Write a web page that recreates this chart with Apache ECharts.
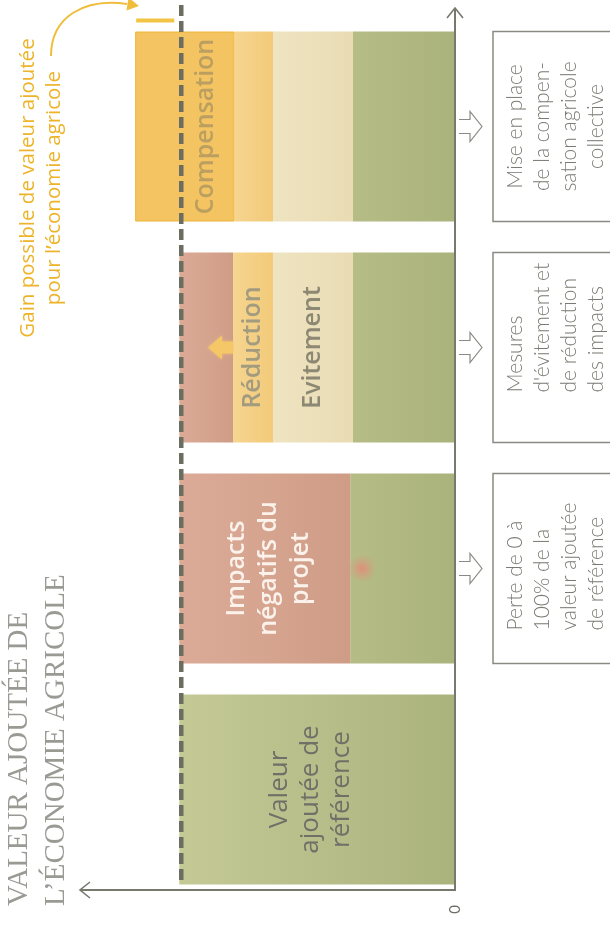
<!DOCTYPE html>
<html>
<head>
<meta charset="utf-8">
<script src="https://cdn.jsdelivr.net/npm/echarts@6/dist/echarts.min.js"></script>
<style>
  html, body { margin: 0; padding: 0; background: #ffffff; }
  #chart { width: 610px; height: 930px; }
</style>
</head>
<body>
<div id="chart"></div>
<script>
// Agricultural value added at each stage of a project (reference = 100)
const stages = ['Référence', 'Impacts', 'Évitement et réduction', 'Compensation'];
const preservedValue  = [100, 38, 37, 37];
const avoidedLoss     = [0, 0, 29, 29];
const reducedLoss     = [0, 0, 14.5, 14];
const remainingImpact = [0, 62, 19.5, 0];
const compensation    = [0, 0, 0, 36];
const referenceLevel  = 100;
const valueMax        = 136;
const zeroTick        = '0';

const stageNotes = [
  '',
  'Perte de 0 à\n100% de la\nvaleur ajoutée\nde référence',
  'Mesures\nd\'évitement et\nde réduction\ndes impacts',
  'Mise en place\nde la compen-\nsation agricole\ncollective'
];

// text layout of the side notes: alignment and start offset from the band centre
const noteAlign = ['left', 'left', 'left', 'center'];
const noteStart = [0, 62, 45, 0];

const chart = echarts.init(document.getElementById('chart'), null, { renderer: 'canvas' });

const grad = (a, b) => new echarts.graphic.LinearGradient(0, 0, 1, 0, [
  { offset: 0, color: a }, { offset: 1, color: b }
]);

// labels are turned a quarter turn; offset[1] moves them to the right on screen
const barLabel = (text, color, extra) => Object.assign({
  show: true, position: 'inside', rotate: 90, formatter: text, color: color,
  fontFamily: 'Open Sans', fontSize: 25, fontWeight: 600, lineHeight: 32
}, extra || {});

const BAR_W = 190;

function stackSeries(name, values, color, itemFn) {
  return {
    name: name, type: 'bar', stack: 'value', barWidth: BAR_W, silent: true,
    itemStyle: { color: color },
    data: values.map((v, i) => (itemFn ? itemFn(v, i) : v))
  };
}

const option = {
  animation: false,
  backgroundColor: '#ffffff',
  grid: { left: 80, right: 155, top: 16, bottom: 30, containLabel: false },
  xAxis: {
    type: 'value', inverse: true, min: 0, max: valueMax, interval: valueMax / 2,
    offset: -10,
    axisLine: { show: false }, axisTick: { show: false }, splitLine: { show: false },
    axisLabel: {
      formatter: v => (v === 0 ? zeroTick : ''), rotate: 90, margin: 15,
      color: '#6e6f67', fontFamily: 'Lato', fontSize: 15
    }
  },
  yAxis: {
    type: 'category', data: stages, position: 'right',
    axisLine: { show: false }, axisTick: { show: false }, axisLabel: { show: false },
    splitLine: { show: false }
  },
  series: [
    stackSeries('Valeur conservée', preservedValue, grad('#b5bc86', '#abb37d'), (v, i) => i === 0 ? {
      value: v,
      itemStyle: { color: grad('#c4c996', '#abb37d') },
      label: barLabel('Valeur\najoutée de\nréférence', '#6f7067', { fontWeight: 400, fontSize: 26, lineHeight: 31, offset: [0, -7] })
    } : v),
    stackSeries('Évitement', avoidedLoss, grad('#efe4c1', '#e9dcb4'), (v, i) => i === 2 ? {
      value: v, label: barLabel('Evitement', '#8d8873')
    } : v),
    stackSeries('Réduction', reducedLoss, grad('#f6d590', '#f2ca79'), (v, i) => i === 2 ? {
      value: v, label: barLabel('Réduction', '#a39b80')
    } : v),
    stackSeries('Impacts', remainingImpact, grad('#dcab98', '#cf9d86'), (v, i) => i === 1 ? {
      value: v, label: barLabel('Impacts\nnégatifs du\nprojet', '#fbf2ec', { offset: [0, 4] })
    } : v),
    stackSeries('Compensation', compensation, '#f3c461', (v, i) => i === 3 ? {
      value: v,
      itemStyle: { color: '#f3c461', borderColor: '#f0b535', borderWidth: 1 },
      label: barLabel('Compensation', 'rgba(120,115,95,0.45)', { offset: [0, 21] })
    } : v)
  ]
};

chart.setOption(option);

// Decorations placed through the chart's own scales
const px = v => chart.convertToPixel({ xAxisIndex: 0 }, v);
const py = i => chart.convertToPixel({ yAxisIndex: 0 }, i);

const x0 = px(0);
const xEnd = px(valueMax);
const band = py(0) - py(1);
const gridBottom = py(0) + band / 2;
const axisY = gridBottom - 10;
const AXIS_COLOR = '#77796d';
const Z = 50;

const els = [];

// value axis (horizontal) and stage axis (vertical) with open arrowheads
els.push({ type: 'polyline', z: Z, shape: { points: [[x0, 8], [x0, axisY], [xEnd, axisY]] },
  style: { stroke: AXIS_COLOR, lineWidth: 2, fill: null } });
els.push({ type: 'polyline', z: Z, shape: { points: [[x0 - 8, 18], [x0, 8], [x0 + 8, 18]] },
  style: { stroke: AXIS_COLOR, lineWidth: 1.6, fill: null } });
els.push({ type: 'polyline', z: Z, shape: { points: [[xEnd + 10, axisY - 8], [xEnd, axisY], [xEnd + 10, axisY + 8]] },
  style: { stroke: AXIS_COLOR, lineWidth: 1.6, fill: null } });

// reference level
const xRef = px(referenceLevel) + 2;
els.push({ type: 'line', z: Z, shape: { x1: xRef, y1: 5, x2: xRef, y2: gridBottom - 16 },
  style: { stroke: '#6b6d61', lineWidth: 4.5, lineDash: [11, 5] } });

// gain above the reference level
const compTotal = preservedValue[3] + avoidedLoss[3] + reducedLoss[3] + compensation[3];
const compTop = py(3) - BAR_W / 2;
els.push({ type: 'line', z: Z, shape: { x1: px(compTotal) + 1, y1: compTop - 11, x2: xRef - 7, y2: compTop - 11 },
  style: { stroke: '#f2c444', lineWidth: 4 } });

// curved pointer towards the gain
els.push({ type: 'bezierCurve', z: Z,
  shape: { x1: 51, y1: 56, cpx1: 51, cpy1: 16, cpx2: 85, cpy2: -2, x2: 127, y2: 4 },
  style: { stroke: '#f0bd3a', lineWidth: 2, fill: null } });
els.push({ type: 'polygon', z: Z, shape: { points: [[139, 6], [126.5, 10.5], [128.5, -2.5]] },
  style: { fill: '#f0bd3a' } });

// small arrows inside the bars
const redStart = px(preservedValue[2] + avoidedLoss[2] + reducedLoss[2]);
const c3 = py(2);
els.push({ type: 'polygon', z: Z, shape: { points: [
  [redStart, c3 - 6], [redStart - 11, c3 - 6], [redStart - 11, c3 - 12], [redStart - 25, c3],
  [redStart - 11, c3 + 12], [redStart - 11, c3 + 6], [redStart, c3 + 6]] },
  style: { fill: '#f5c867', opacity: 0.9, shadowBlur: 3, shadowColor: '#f5c867' } });

const lossEdge = px(preservedValue[1]);
const c2 = py(1);
els.push({ type: 'circle', z: Z, shape: { cx: lossEdge + 12, cy: c2, r: 14 },
  style: { fill: new echarts.graphic.RadialGradient(0.5, 0.5, 0.5, [
    { offset: 0, color: 'rgba(232,134,120,0.85)' },
    { offset: 0.45, color: 'rgba(228,140,122,0.45)' },
    { offset: 1, color: 'rgba(228,140,122,0)' }]) } });

// explanatory boxes on the right
const NOTE_FONT = '300 21px Lato';
for (let i = 1; i < stages.length; i++) {
  const c = py(i);
  els.push({ type: 'rect', z: Z, shape: { x: 493, y: c - BAR_W / 2, width: 130, height: BAR_W },
    style: { stroke: '#8a8a84', lineWidth: 1.5, fill: null } });
  els.push({ type: 'polyline', z: Z, shape: { points: [
    [x0 + 4, c - 7], [x0 + 15, c - 7], [x0 + 15, c - 15], [x0 + 27, c],
    [x0 + 15, c + 15], [x0 + 15, c + 7], [x0 + 4, c + 7]] },
    style: { stroke: '#8a8a84', lineWidth: 1.2, fill: '#ffffff' } });
  els.push({ type: 'text', z: Z, x: 556, y: c + noteStart[i], rotation: Math.PI / 2,
    style: { text: stageNotes[i], font: NOTE_FONT, fill: '#7a7a73', align: noteAlign[i],
      verticalAlign: 'middle', lineHeight: 27 } });
}

// axis title
els.push({ type: 'text', z: Z, x: 38, y: 906, rotation: Math.PI / 2,
  style: { text: 'VALEUR AJOUTÉE DE\nL\u2019ÉCONOMIE AGRICOLE', font: '29px "Liberation Serif"',
    fill: '#9a9a95', align: 'left', verticalAlign: 'middle', lineHeight: 37 } });

// gain caption
els.push({ type: 'text', z: Z, x: 41, y: 188, rotation: Math.PI / 2,
  style: { text: 'Gain possible de valeur ajoutée\npour l\u2019économie agricole', font: '20.5px "Open Sans"',
    fill: '#edb42a', align: 'center', verticalAlign: 'middle', lineHeight: 26 } });

chart.setOption({ graphic: els });
</script>
</body>
</html>
